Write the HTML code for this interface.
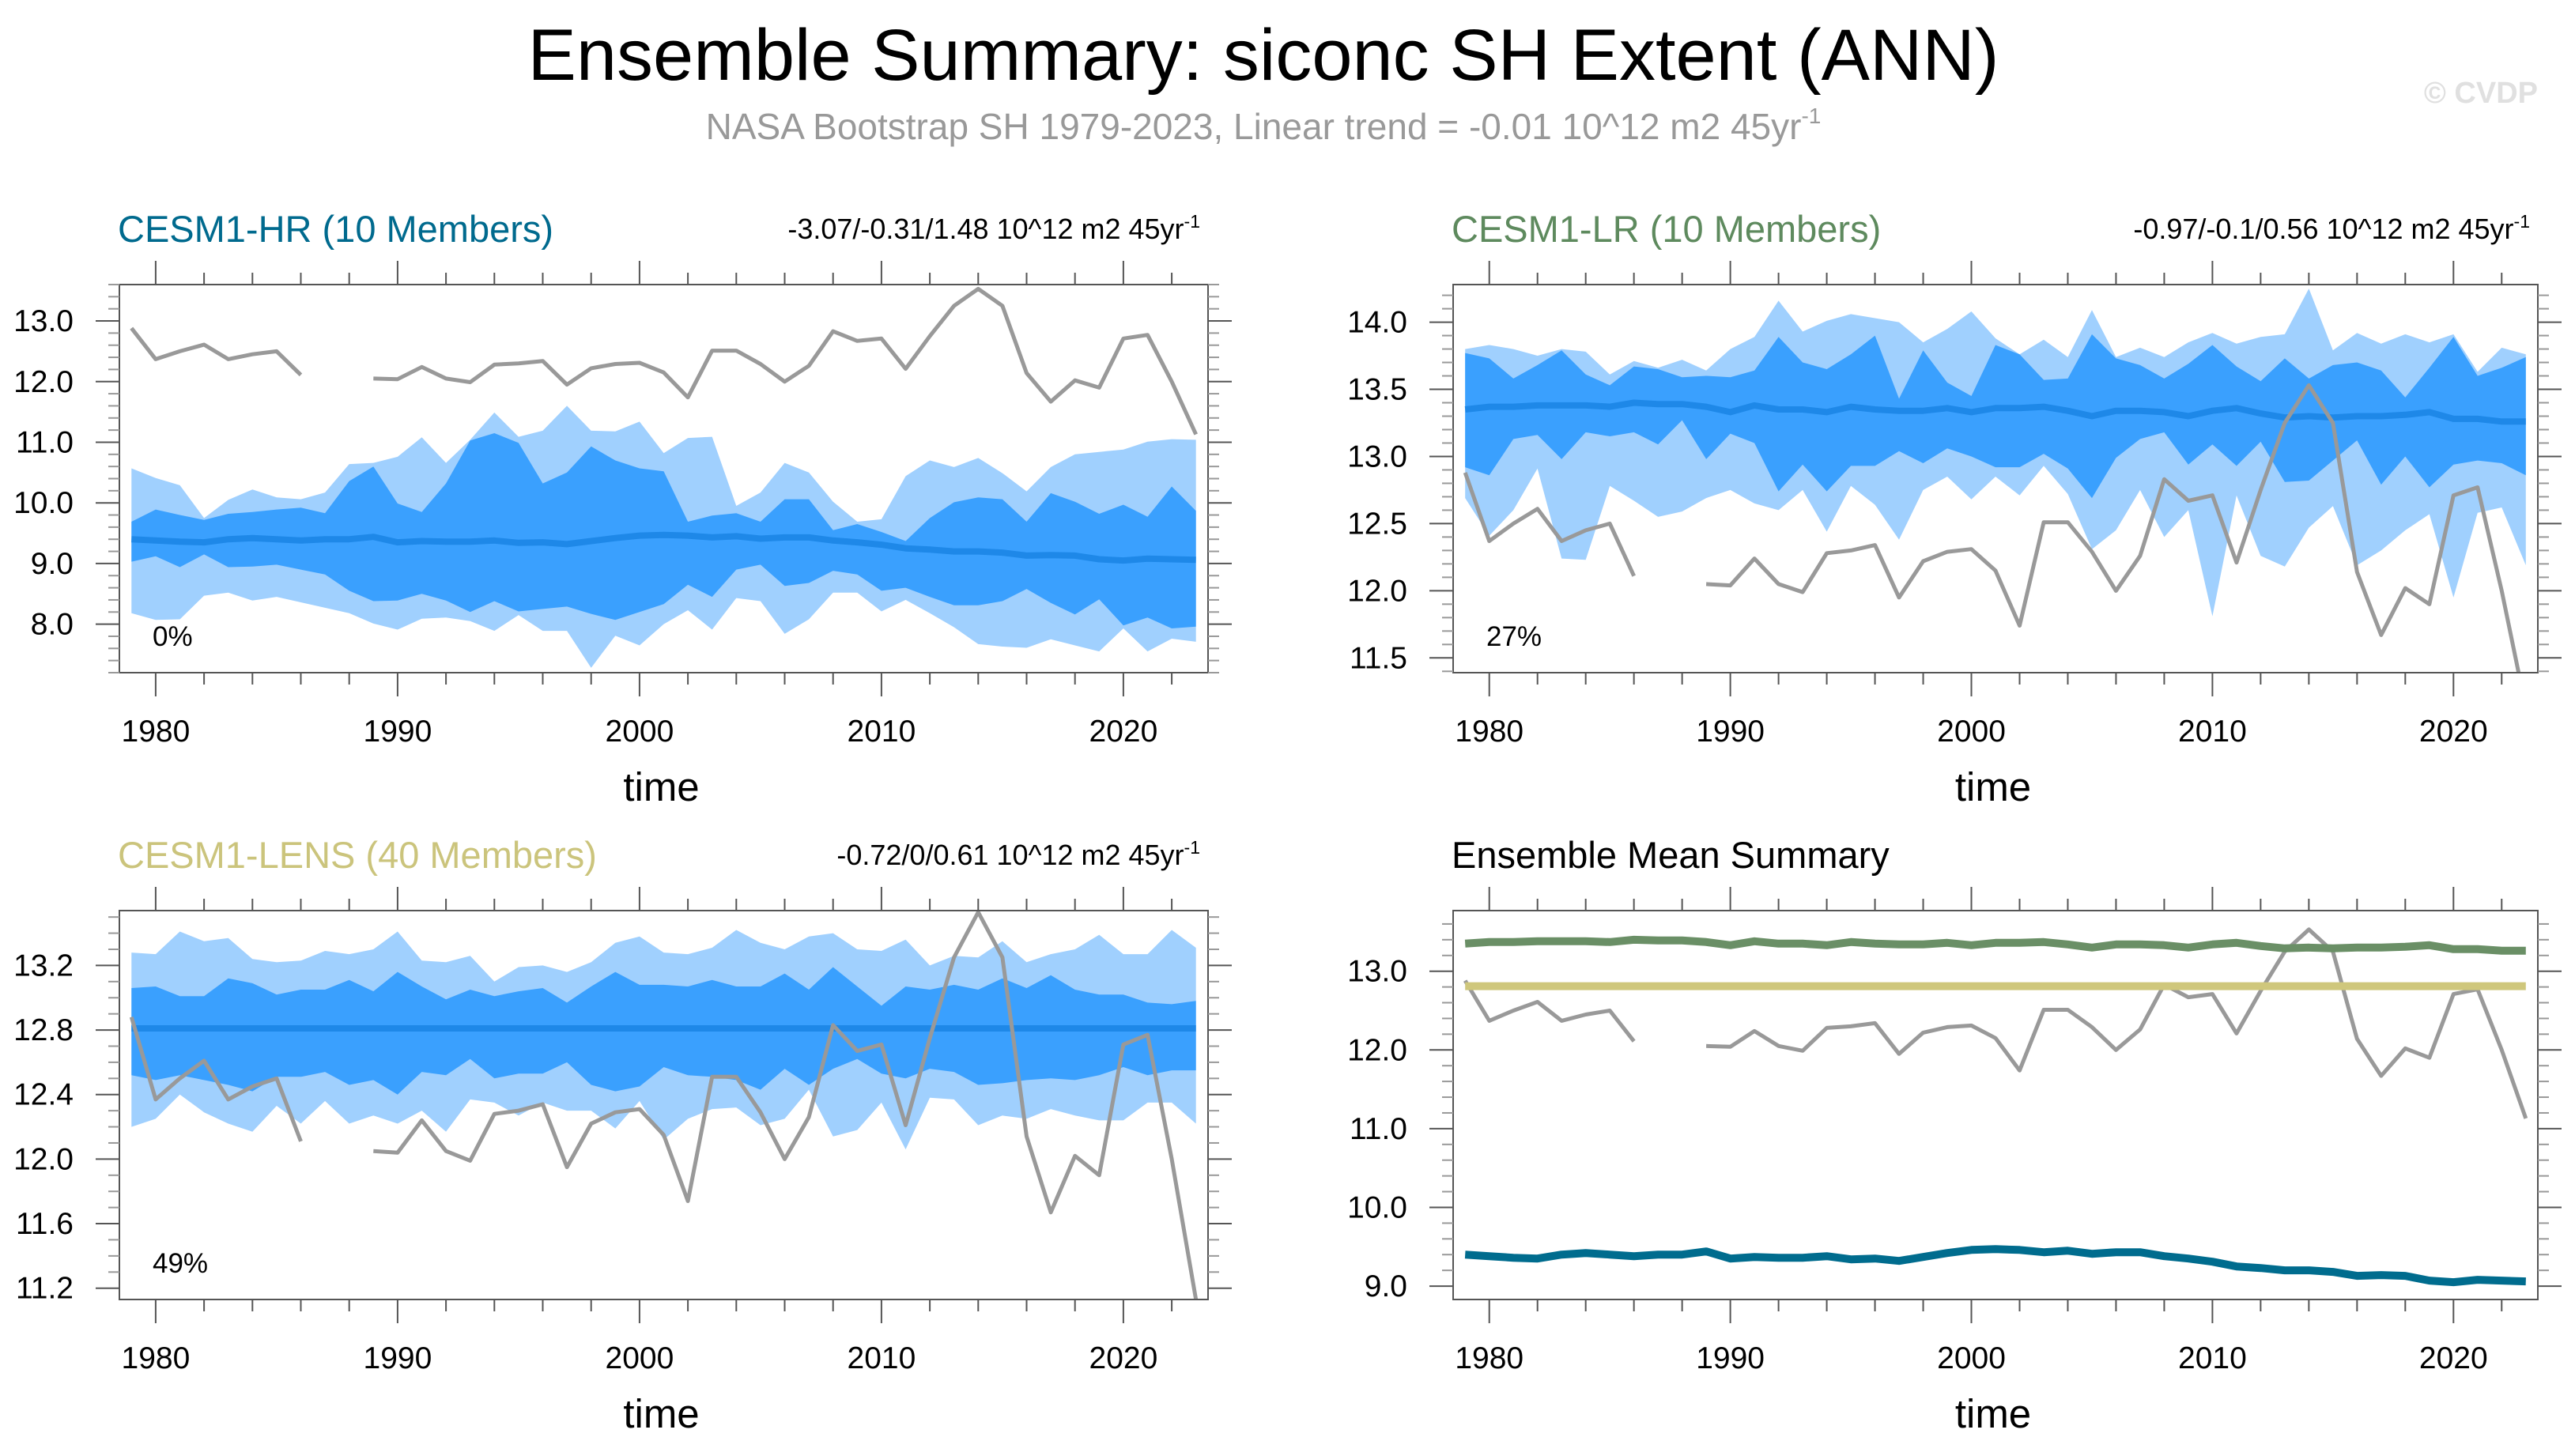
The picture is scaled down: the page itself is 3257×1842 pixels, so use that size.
<!DOCTYPE html>
<html><head><meta charset="utf-8">
<style>
html,body{margin:0;padding:0;background:#fff;}
svg{display:block;font-family:"Liberation Sans",sans-serif;}
</style></head>
<body>
<svg id="chart" width="3257" height="1842" viewBox="0 0 3257 1842" xmlns="http://www.w3.org/2000/svg">
<rect width="3257" height="1842" fill="#fff"/>
<text x="1598" y="101" text-anchor="middle" font-size="92">Ensemble Summary: siconc SH Extent (ANN)</text>
<text x="1598" y="176" text-anchor="middle" font-size="46" fill="#999">NASA Bootstrap SH 1979-2023, Linear trend = -0.01 10^12 m2 45yr<tspan dy="-20" font-size="28">-1</tspan></text>
<text x="3210" y="130" text-anchor="end" font-size="38" font-weight="bold" fill="#e0e0e0">© CVDP</text>
<g id="plots"></g>
</svg>
<script>
const years = [];
for (let y = 1979; y <= 2023; y++) years.push(y);
const obs = [12.88,12.37,12.5,12.61,12.37,12.45,12.5,12.11,null,null,12.05,12.04,12.24,12.05,11.99,12.28,12.30,12.34,11.95,12.22,12.29,12.31,12.15,11.74,12.51,12.51,12.29,12.0,12.26,12.83,12.67,12.71,12.21,12.75,13.25,13.53,13.25,12.14,11.67,12.02,11.9,12.71,12.77,12.0,11.13];

const hrMean = [9.40,9.38,9.36,9.35,9.40,9.42,9.40,9.38,9.40,9.40,9.44,9.35,9.37,9.36,9.36,9.38,9.34,9.35,9.32,9.37,9.42,9.46,9.47,9.46,9.43,9.45,9.41,9.43,9.43,9.38,9.35,9.31,9.25,9.23,9.20,9.20,9.18,9.13,9.14,9.13,9.07,9.05,9.08,9.07,9.06];
const hrOuterTop = [10.57,10.41,10.29,9.75,10.05,10.22,10.09,10.06,10.17,10.64,10.66,10.76,11.08,10.66,11.04,11.49,11.09,11.19,11.6,11.19,11.18,11.34,10.82,11.07,11.09,9.95,10.17,10.66,10.5,10.02,9.69,9.73,10.44,10.7,10.59,10.74,10.49,10.19,10.59,10.8,10.84,10.88,11.01,11.05,11.04];
const hrInnerTop = [9.69,9.89,9.8,9.72,9.82,9.85,9.89,9.92,9.83,10.36,10.6,9.99,9.85,10.32,11.03,11.15,10.99,10.32,10.5,10.93,10.7,10.57,10.52,9.69,9.79,9.83,9.69,10.06,10.06,9.55,9.65,9.52,9.37,9.75,10.01,10.09,10.06,9.69,10.16,10.02,9.82,9.97,9.77,10.27,9.87];
const hrInnerBot = [9.03,9.12,8.94,9.15,8.94,8.95,8.98,8.9,8.82,8.55,8.38,8.39,8.5,8.39,8.2,8.38,8.21,8.25,8.29,8.17,8.07,8.2,8.33,8.65,8.45,8.9,8.98,8.63,8.68,8.88,8.82,8.55,8.6,8.45,8.31,8.31,8.38,8.58,8.35,8.16,8.41,7.98,8.11,7.93,7.96];
const hrOuterBot = [8.18,8.07,8.08,8.47,8.52,8.39,8.45,8.36,8.27,8.18,8.01,7.91,8.09,8.11,8.05,7.89,8.15,7.89,7.89,7.28,7.81,7.65,8.0,8.23,7.91,8.43,8.38,7.84,8.08,8.52,8.52,8.21,8.40,8.18,7.95,7.67,7.63,7.61,7.75,7.65,7.55,7.93,7.55,7.76,7.71];

const lrMean = [13.35,13.37,13.37,13.38,13.38,13.38,13.37,13.40,13.39,13.39,13.37,13.33,13.38,13.35,13.35,13.33,13.37,13.35,13.34,13.34,13.36,13.33,13.36,13.36,13.37,13.34,13.30,13.34,13.34,13.33,13.30,13.34,13.36,13.32,13.29,13.30,13.29,13.30,13.30,13.31,13.33,13.28,13.28,13.26,13.26];
const lrOuterTop = [13.80,13.83,13.80,13.75,13.80,13.78,13.61,13.71,13.66,13.72,13.64,13.80,13.89,14.16,13.93,14.01,14.06,14.03,14.00,13.85,13.95,14.08,13.88,13.76,13.87,13.74,14.09,13.74,13.81,13.74,13.85,13.92,13.84,13.89,13.91,14.25,13.79,13.92,13.84,13.91,13.85,13.91,13.63,13.81,13.76];
const lrInnerTop = [13.77,13.73,13.58,13.68,13.79,13.61,13.53,13.67,13.65,13.59,13.60,13.59,13.64,13.89,13.70,13.65,13.76,13.90,13.43,13.79,13.55,13.45,13.83,13.76,13.57,13.58,13.91,13.73,13.68,13.58,13.69,13.83,13.67,13.56,13.73,13.58,13.68,13.70,13.64,13.44,13.66,13.89,13.60,13.66,13.74];
const lrInnerBot = [12.92,12.86,13.13,13.16,12.98,13.18,13.15,13.18,13.09,13.27,12.98,13.17,13.10,12.74,12.94,12.74,12.93,12.93,13.04,12.95,13.06,13.00,12.92,12.92,13.02,12.91,12.69,12.99,13.13,13.18,12.94,13.09,12.93,13.11,12.81,12.82,12.97,13.12,12.79,13.00,12.77,12.94,12.97,12.95,12.86];
const lrOuterBot = [12.69,12.41,12.60,12.91,12.24,12.23,12.78,12.67,12.55,12.59,12.69,12.75,12.65,12.60,12.75,12.44,12.78,12.64,12.38,12.75,12.85,12.68,12.85,12.71,12.93,12.72,12.31,12.45,12.75,12.40,12.60,11.81,12.71,12.26,12.18,12.47,12.63,12.19,12.30,12.45,12.57,11.95,12.58,12.62,12.19];

const lensMean = [12.81,12.81,12.81,12.81,12.81,12.81,12.81,12.81,12.81,12.81,12.81,12.81,12.81,12.81,12.81,12.81,12.81,12.81,12.81,12.81,12.81,12.81,12.81,12.81,12.81,12.81,12.81,12.81,12.81,12.81,12.81,12.81,12.81,12.81,12.81,12.81,12.81,12.81,12.81,12.81,12.81,12.81,12.81,12.81,12.81];
const lensOuterTop = [13.28,13.27,13.41,13.35,13.37,13.24,13.22,13.23,13.29,13.27,13.30,13.41,13.23,13.22,13.26,13.10,13.19,13.20,13.16,13.22,13.34,13.38,13.28,13.27,13.31,13.42,13.34,13.30,13.38,13.40,13.30,13.29,13.36,13.20,13.26,13.25,13.35,13.22,13.27,13.30,13.39,13.27,13.27,13.42,13.31];
const lensInnerTop = [13.06,13.07,13.01,13.01,13.12,13.09,13.02,13.05,13.05,13.11,13.04,13.16,13.07,12.99,13.05,13.01,13.04,13.06,12.97,13.07,13.16,13.08,13.08,13.07,13.11,13.07,13.07,13.15,13.05,13.19,13.07,12.95,13.07,13.05,13.08,13.05,13.12,13.06,13.14,13.05,13.02,13.02,12.97,12.96,12.98];
const lensInnerBot = [12.52,12.49,12.52,12.49,12.46,12.42,12.51,12.51,12.54,12.46,12.49,12.40,12.54,12.52,12.62,12.50,12.53,12.53,12.60,12.46,12.42,12.45,12.57,12.52,12.51,12.49,12.43,12.56,12.46,12.56,12.62,12.53,12.50,12.56,12.54,12.46,12.47,12.49,12.50,12.49,12.52,12.57,12.52,12.55,12.55];
const lensOuterBot = [12.20,12.25,12.40,12.29,12.22,12.17,12.33,12.22,12.36,12.22,12.27,12.22,12.30,12.17,12.37,12.35,12.27,12.35,12.30,12.30,12.19,12.36,12.12,12.25,12.31,12.32,12.21,12.25,12.43,12.14,12.18,12.35,12.06,12.38,12.37,12.21,12.27,12.25,12.31,12.27,12.24,12.24,12.35,12.35,12.22];

const xTicks = [1980,1990,2000,2010,2020];
const hrYTicks = ["8.0","9.0","10.0","11.0","12.0","13.0"];
const lrYTicks = ["11.5","12.0","12.5","13.0","13.5","14.0"];
const lensYTicks = ["11.2","11.6","12.0","12.4","12.8","13.2"];
const sumYTicks = ["9.0","10.0","11.0","12.0","13.0"];

const NS = "http://www.w3.org/2000/svg";
const root = document.getElementById("plots");
function mk(tag, attrs, parent) {
  const e = document.createElementNS(NS, tag);
  for (const k in attrs) e.setAttribute(k, attrs[k]);
  (parent || root).appendChild(e);
  return e;
}

function panel(o) {
  const g = mk("g", {});
  
  
  const L = o.L, R = o.R, T = o.T, B = o.B;
  const xs = v => L + (v - 1978.5) * (R - L) / 45;
  const ys = v => T + (o.ymax - v) * (B - T) / (o.ymax - o.ymin);
  const clip = mk("clipPath", { id: "c" + o.id }, g);
  mk("rect", { x: L, y: T, width: R - L, height: B - T }, clip);
  const cg = mk("g", { "clip-path": "url(#c" + o.id + ")" }, g);
  function bandC(top, bot, color, nm) {
    let d = "";
    top.forEach((v, i) => { d += (i ? "L" : "M") + xs(years[i]).toFixed(1) + "," + ys(v).toFixed(1); });
    for (let i = bot.length - 1; i >= 0; i--) d += "L" + xs(years[i]).toFixed(1) + "," + ys(bot[i]).toFixed(1);
    const p = mk("path", { d: d + "Z", fill: color }, cg);
    
    
  }
  function lineC(arr, color, w, nm) {
    let d = "", pen = false;
    arr.forEach((v, i) => {
      if (v === null) { pen = false; return; }
      d += (pen ? "L" : "M") + xs(years[i]).toFixed(1) + "," + ys(v).toFixed(1);
      pen = true;
    });
    const p = mk("path", { d: d, fill: "none", stroke: color, "stroke-width": w, "stroke-linejoin": "round", "stroke-linecap": "butt" }, cg);
    
    
  }
  if (o.bands) {
    bandC(o.bands[0], o.bands[3], "#a0d0fe", "outer-range-band");
    bandC(o.bands[1], o.bands[2], "#3aa0fe", "inner-range-band");
  }
  (o.lines || []).forEach(l => lineC(l.data, l.color, l.w, l.name));
  const box = mk("rect", { x: L, y: T, width: R - L, height: B - T, fill: "none", stroke: "#555", "stroke-width": 2 }, g);
  
  
  for (let y = 1980; y <= 2022; y += 2) {
    const major = y % 10 === 0;
    const len = major ? 30 : 15;
    const x = xs(y);
    mk("line", { x1: x, x2: x, y1: T, y2: T - len, stroke: "#555", "stroke-width": 2 }, g);
    mk("line", { x1: x, x2: x, y1: B, y2: B + len, stroke: "#555", "stroke-width": 2 }, g);
  }
  xTicks.forEach(t => {
    const tx = mk("text", { x: xs(t), y: B + 87, "text-anchor": "middle", "font-size": 39 }, g);
    
    
    tx.textContent = t;
  });
  const yt = o.yticks.map(Number);
  for (let v = Math.ceil(o.ymin / o.minor - 1e-6) * o.minor; v <= o.ymax + 1e-9; v += o.minor) {
    const major = yt.some(t => Math.abs(t - v) < 1e-6);
    const len = major ? 30 : 14;
    const y = ys(v);
    mk("line", { x1: L, x2: L - len, y1: y, y2: y, stroke: major ? "#555" : "#999", "stroke-width": 2 }, g);
    mk("line", { x1: R, x2: R + len, y1: y, y2: y, stroke: major ? "#555" : "#999", "stroke-width": 2 }, g);
  }
  o.yticks.forEach(t => {
    const tx = mk("text", { x: L - 58, y: ys(Number(t)) + 13, "text-anchor": "end", "font-size": 39 }, g);
    
    
    tx.textContent = t;
  });
  const xt = mk("text", { x: (L + R) / 2 - 3, y: B + 162, "text-anchor": "middle", "font-size": 51 }, g);
  
  
  xt.textContent = "time";
  const tt = mk("text", { x: L - 2, y: T - 54, "font-size": 47, fill: o.tcolor }, g);
  
  
  tt.textContent = o.title;
  if (o.trend) {
    const tr = mk("text", { x: R - 10, y: T - 58, "text-anchor": "end", "font-size": 36 }, g);
    
    
    tr.innerHTML = o.trend + '<tspan dy="-14" font-size="23">-1</tspan>';
  }
  if (o.pct) {
    const pc = mk("text", { x: L + 42, y: B - 34, "font-size": 35 }, g);
    
    
    pc.textContent = o.pct;
  }
}

panel({ id: 1, name: "panel-cesm1-hr", L: 151, R: 1528, T: 360, B: 851, ymin: 7.2, ymax: 13.6, minor: 0.2,
  yticks: hrYTicks, title: "CESM1-HR (10 Members)", tcolor: "#006a8e",
  trend: "-3.07/-0.31/1.48 10^12 m2 45yr", pct: "0%",
  bands: [hrOuterTop, hrInnerTop, hrInnerBot, hrOuterBot],
  lines: [{ data: hrMean, color: "#1e88e8", w: 8, name: "ensemble-mean-line" }, { data: obs, color: "#999", w: 5, name: "observed-line" }] });

panel({ id: 2, name: "panel-cesm1-lr", L: 1838, R: 3210, T: 360, B: 851, ymin: 11.39, ymax: 14.28, minor: 0.1,
  yticks: lrYTicks, title: "CESM1-LR (10 Members)", tcolor: "#5e8a5e",
  trend: "-0.97/-0.1/0.56 10^12 m2 45yr", pct: "27%",
  bands: [lrOuterTop, lrInnerTop, lrInnerBot, lrOuterBot],
  lines: [{ data: lrMean, color: "#1e88e8", w: 8, name: "ensemble-mean-line" }, { data: obs, color: "#999", w: 5, name: "observed-line" }] });

panel({ id: 3, name: "panel-cesm1-lens", L: 151, R: 1528, T: 1152, B: 1644, ymin: 11.13, ymax: 13.54, minor: 0.1,
  yticks: lensYTicks, title: "CESM1-LENS (40 Members)", tcolor: "#cbc47c",
  trend: "-0.72/0/0.61 10^12 m2 45yr", pct: "49%",
  bands: [lensOuterTop, lensInnerTop, lensInnerBot, lensOuterBot],
  lines: [{ data: lensMean, color: "#1e88e8", w: 8, name: "ensemble-mean-line" }, { data: obs, color: "#999", w: 5, name: "observed-line" }] });

panel({ id: 4, name: "panel-ensemble-mean-summary", L: 1838, R: 3210, T: 1152, B: 1644, ymin: 8.83, ymax: 13.77, minor: 0.2,
  yticks: sumYTicks, title: "Ensemble Mean Summary", tcolor: "#000",
  lines: [{ data: obs, color: "#999", w: 5, name: "observed-line" },
          { data: lrMean, color: "#6a8f66", w: 10, name: "cesm1-lr-mean-line" },
          { data: lensMean, color: "#cfc77c", w: 10, name: "cesm1-lens-mean-line" },
          { data: hrMean, color: "#006c8e", w: 10, name: "cesm1-hr-mean-line" }] });
</script>
</body></html>
